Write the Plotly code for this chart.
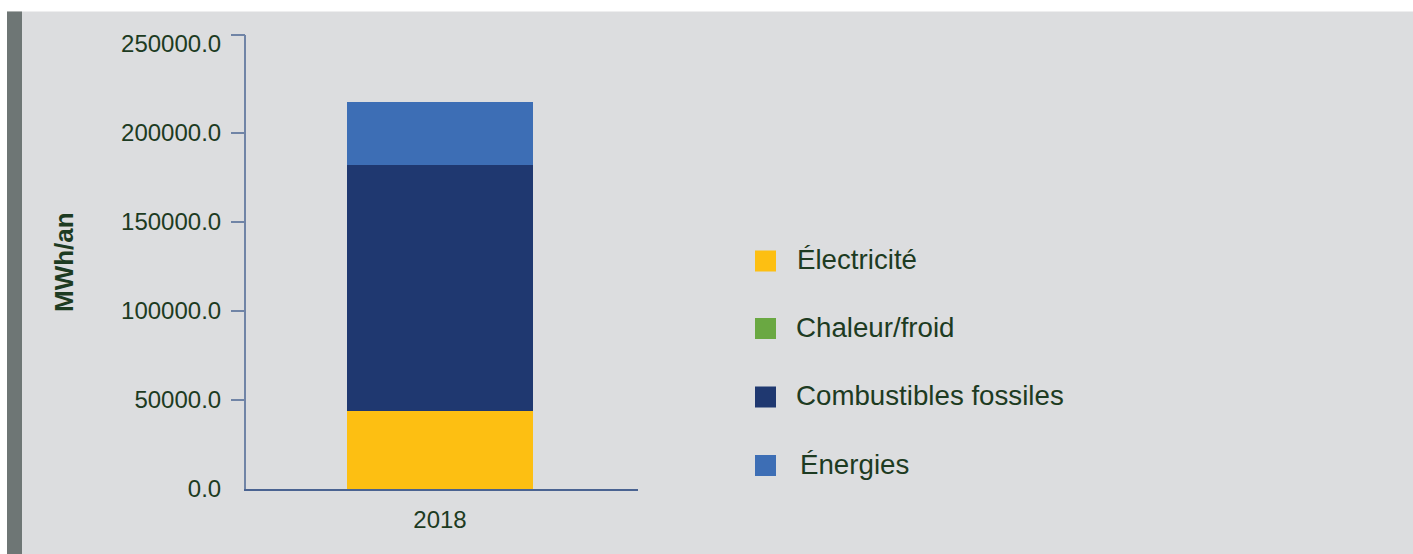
import plotly.graph_objects as go

# Energy consumption per carrier, MWh per year
years = ["2018"]
series_names = ["Électricité", "Chaleur/froid", "Combustibles fossiles", "Énergies"]
electricite = [44000]
chaleur_froid = [0]
combustibles_fossiles = [138200]
energies = [35400]
series_values = [electricite, chaleur_froid, combustibles_fossiles, energies]
series_colors = ["#fdbf12", "#6aa842", "#1f3870", "#3d6eb5"]

y_tickvals = [0, 50000, 100000, 150000, 200000, 250000]
y_ticktext = ["0.0", "50000.0", "100000.0", "150000.0", "200000.0", "250000.0"]

W, H = 1413, 554
ML, MR, MT, MB = 246, 775, 35, 65
plot_w = W - ML - MR
plot_h = H - MT - MB
y_max = 250000 * plot_h / 445.0

PANEL = "#dcdddf"
TEXT = "#1d3b22"
AXIS = "#7084a6"
FONT = "Liberation Sans, Arial, sans-serif"

fig = go.Figure()
for name, vals, col in zip(series_names, series_values, series_colors):
    fig.add_trace(go.Bar(x=years, y=vals, name=name, marker=dict(color=col, line=dict(width=0)),
                         showlegend=False, yaxis="y"))


def px_x(x):
    return (x - ML) / plot_w


def px_y(y):
    return (MT + plot_h - y) / plot_h


shapes = [
    # white strips above and left of the panel
    dict(type="rect", xref="paper", yref="paper", x0=px_x(0), x1=px_x(W), y0=px_y(11.5), y1=px_y(0),
         fillcolor="white", line=dict(width=0), layer="above"),
    dict(type="rect", xref="paper", yref="paper", x0=px_x(0), x1=px_x(7), y0=px_y(H), y1=px_y(0),
         fillcolor="white", line=dict(width=0), layer="above"),
    # dark side stripe
    dict(type="rect", xref="paper", yref="paper", x0=px_x(7), x1=px_x(22), y0=px_y(H), y1=px_y(11.5),
         fillcolor="#6e7675", line=dict(width=0), layer="above"),
]

annotations = [
    dict(text="<b>MWh/an</b>", xref="paper", yref="paper", x=px_x(64), y=0.5, textangle=-90,
         showarrow=False, xanchor="center", yanchor="middle", font=dict(family=FONT, size=26, color=TEXT)),
]

# legend drawn as squares and labels
leg_centers = [261, 328.5, 397, 465.5]
leg_text_x = [795, 794, 794, 798]
for name, col, cy, tx in zip(series_names, series_colors, leg_centers, leg_text_x):
    shapes.append(dict(type="rect", xref="paper", yref="paper", x0=px_x(755), x1=px_x(776),
                       y0=px_y(cy + 10.5), y1=px_y(cy - 10.5), fillcolor=col, line=dict(width=0)))
    annotations.append(dict(text=name, xref="paper", yref="paper", x=px_x(tx), y=px_y(cy - 1.5),
                            xanchor="left", yanchor="middle", showarrow=False,
                            font=dict(family=FONT, size=27.7, color=TEXT)))

fig.update_layout(
    width=W, height=H,
    margin=dict(l=ML, r=MR, t=MT, b=MB, pad=0),
    paper_bgcolor=PANEL, plot_bgcolor=PANEL,
    barmode="stack", bargap=0.5255,
    showlegend=False,
    font=dict(family=FONT, color=TEXT),
    xaxis=dict(range=[-0.4949, 0.5051], showgrid=False, zeroline=False, showline=True,
               linecolor="#4a6391", linewidth=2,
               ticks="", tickfont=dict(size=24, color=TEXT), ticklabelstandoff=8),
    yaxis=dict(range=[0, y_max], showgrid=False, zeroline=False, showline=True, linecolor=AXIS,
               linewidth=2, tickvals=y_tickvals, ticktext=y_ticktext, ticks="",
               tickfont=dict(size=24, color=TEXT), ticklabelstandoff=18),
    yaxis2=dict(range=[0, y_max], overlaying="y", side="left", showgrid=False, zeroline=False,
                showline=False, showticklabels=False,
                tickvals=[50000, 100000, 150000, 200000, y_max], ticks="outside", ticklen=14,
                tickwidth=2, tickcolor=AXIS),
    shapes=shapes,
    annotations=annotations,
)
# invisible trace so the tick-mark axis is drawn
fig.add_trace(go.Scatter(x=years, y=[None], yaxis="y2", showlegend=False, hoverinfo="skip"))

fig.write_html("out.html")
